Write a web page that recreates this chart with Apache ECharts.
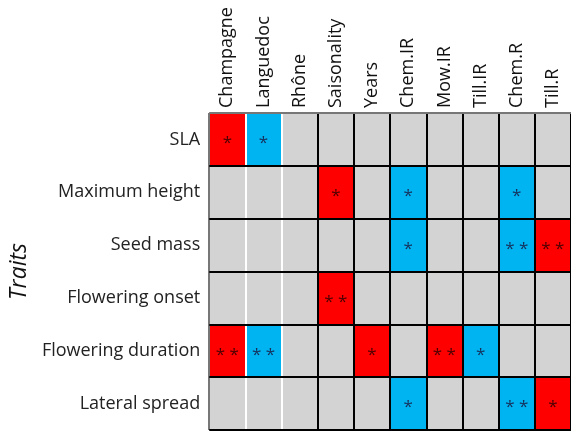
<!DOCTYPE html>
<html>
<head>
<meta charset="utf-8">
<script src="https://cdn.jsdelivr.net/npm/echarts@6/dist/echarts.min.js"></script>
<style>
  html, body { margin: 0; padding: 0; background: #fff; }
  #chart { width: 571px; height: 432px; }
</style>
</head>
<body>
<div id="chart"></div>
<script>
// columns (predictors) and rows (traits)
const predictors = ['Champagne', 'Languedoc', 'Rhône', 'Saisonality', 'Years', 'Chem.IR', 'Mow.IR', 'Till.IR', 'Chem.R', 'Till.R']
const traits = ['SLA', 'Maximum height', 'Seed mass', 'Flowering onset', 'Flowering duration', 'Lateral spread']

// effect per predictor: sign = direction (+ red, - blue), size = number of stars
const sla = [1, -1, 0, 0, 0, 0, 0, 0, 0, 0]
const maxHeight = [0, 0, 0, 1, 0, -1, 0, 0, -1, 0]
const seedMass = [0, 0, 0, 0, 0, -1, 0, 0, -2, 2]
const floweringOnset = [0, 0, 0, 2, 0, 0, 0, 0, 0, 0]
const floweringDuration = [2, -2, 0, 0, 1, 0, 2, -1, 0, 0]
const lateralSpread = [0, 0, 0, 0, 0, -1, 0, 0, -2, 1]

const rows = [sla, maxHeight, seedMass, floweringOnset, floweringDuration, lateralSpread]

const data = []
rows.forEach((row, y) => {
  row.forEach((v, x) => {
    data.push({
      value: [x, y, v],
      label: { color: v > 0 ? '#4a0000' : '#16305a' }
    })
  })
})

// grid line colours (first columns share a block -> white separators)
const vLines = ['#777', '#fff', '#fff', '#000', '#000', '#000', '#000', '#000', '#000', '#000', '#000']
const hLines = ['#777', '#000', '#000', '#000', '#000', '#000', '#000']

const chart = echarts.init(document.getElementById('chart'))
chart.setOption({
  animation: false,
  textStyle: { fontFamily: 'Open Sans' },
  grid: { left: 205, top: 113, width: 367, height: 317 },
  xAxis: {
    type: 'category',
    position: 'top',
    data: predictors,
    z: 10,
    axisLine: { show: false },
    axisTick: { show: false },
    axisLabel: { rotate: -90, margin: 5, fontSize: 18, color: '#111' },
    splitLine: { show: true, lineStyle: { color: vLines, width: 2 } }
  },
  yAxis: {
    type: 'category',
    inverse: true,
    data: traits,
    z: 11,
    axisLine: { show: false },
    axisTick: { show: false },
    axisLabel: { margin: 9, fontSize: 18, color: '#222' },
    splitLine: { show: true, lineStyle: { color: hLines, width: 2 } },
    name: 'Traits',
    nameLocation: 'middle',
    nameRotate: 90,
    nameGap: 178,
    nameTextStyle: { fontSize: 23, fontStyle: 'italic', color: '#111' }
  },
  visualMap: {
    show: false,
    type: 'piecewise',
    dimension: 2,
    pieces: [
      { lt: 0, color: '#00b4f2' },
      { value: 0, color: '#d3d3d3' },
      { gt: 0, color: '#ff0000' }
    ]
  },
  series: [{
    type: 'heatmap',
    data: data,
    label: {
      show: true,
      fontSize: 17,
      offset: [0, 4],
      formatter: p => '*'.repeat(Math.abs(p.value[2])).split('').join(' ')
    },
    emphasis: { disabled: true }
  }]
})
</script>
</body>
</html>
